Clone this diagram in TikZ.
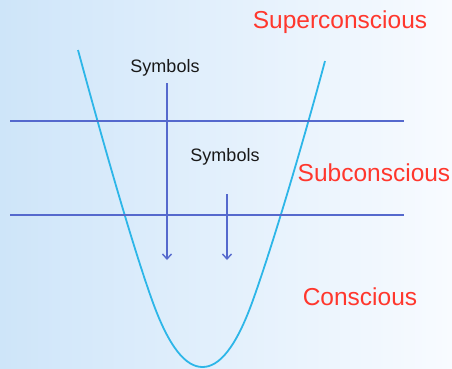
\documentclass[tikz,border=0pt]{standalone}
\usepackage{fontspec}
\setmainfont{Liberation Sans}
\usetikzlibrary{arrows.meta}
\definecolor{bgleft}{RGB}{206,229,249}
\definecolor{bgright}{RGB}{248,251,255}
\definecolor{curvecol}{RGB}{45,182,232}
\definecolor{linecol}{RGB}{85,105,205}
\definecolor{labred}{RGB}{255,55,45}
\tikzset{
  level/.style={draw=linecol, line width=1.4pt},
  flow/.style={draw=linecol, line width=1.4pt, -{Straight Barb[length=5pt,width=9pt,line width=1.4pt]}},
  symlabel/.style={inner sep=0pt, text=black!90, font=\fontsize{18}{20}\selectfont},
  zonelabel/.style={inner sep=0pt, text=labred, font=\fontsize{24.5}{27}\selectfont},
}
\begin{document}
\begin{tikzpicture}[x=1pt,y=-1pt]
\useasboundingbox (0,0) rectangle (452,368);
\shade[left color=bgleft, right color=bgright] (0,0) rectangle (452,368);
% bowl curve
\draw[curvecol, line width=1.8pt]
  (78,50) .. controls (98,124) and (130,238.4) .. (152,300)
  .. controls (169,347.6) and (185.8,367) .. (202.5,367)
  .. controls (219.2,367) and (236,347.6) .. (253,300)
  .. controls (275,238.4) and (306,132) .. (325,61);
% level lines
\coordinate (l1a) at (10,121);
\coordinate (l1b) at (404,121);
\coordinate (l2a) at (10,215);
\coordinate (l2b) at (404,215);
\draw[level] (l1a) -- (l1b);
\draw[level] (l2a) -- (l2b);
% labels
\node[symlabel] (sym1) at (165,68) {Symbols};
\node[symlabel] (sym2) at (225,157) {Symbols};
\node[zonelabel] (super) at (340,22) {Superconscious};
\node[zonelabel] (sub) at (374,173) {Subconscious};
\node[zonelabel] (cons) at (360,297) {Conscious};
% arrows
\coordinate (a1s) at (167,83);
\coordinate (a1e) at (167,260);
\coordinate (a2s) at (227,194);
\coordinate (a2e) at (227,260);
\draw[flow] (a1s) -- (a1e);
\draw[flow] (a2s) -- (a2e);
\end{tikzpicture}
\end{document}
